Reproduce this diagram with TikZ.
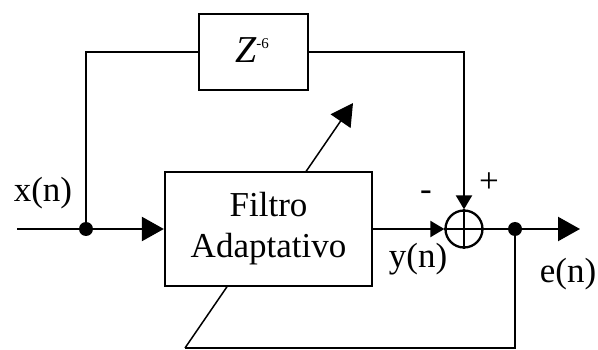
\documentclass[tikz,border=0pt]{standalone}
\usepackage{fontspec}
\setmainfont{Liberation Serif}
\usetikzlibrary{arrows.meta}
\tikzset{
  wire/.style={line width=2.3pt},
  bigarrow/.style={-{Triangle[length=22pt,width=24pt]}},
  smallarrow/.style={-{Triangle[length=14pt,width=16pt]}},
  blockbox/.style={draw,line width=2.3pt,fill=white,inner sep=0pt},
  dotnode/.style={circle,fill=black,inner sep=0pt,minimum size=14pt},
  lbl/.style={inner sep=0pt,font=\fontsize{35}{40}\selectfont}
}
\begin{document}
\begin{tikzpicture}[x=1pt,y=-1pt]
\useasboundingbox (0,0) rectangle (598,350);
% coordinates
\coordinate (in) at (17,229);
\coordinate (out) at (580,229);
\coordinate (br) at (515,348);
\coordinate (bl) at (185,348);
\coordinate (adapt) at (353,103);
% adaptation arrow (behind filter box)
\draw[line width=1.5pt,bigarrow] (bl) -- (adapt);
% nodes
\node[blockbox,minimum width=109pt,minimum height=76pt] (zbox) at (253.5,52) {};
\node[inner sep=0pt] (ztxt) at (252,50) {\fontsize{38}{40}\selectfont\itshape Z\raisebox{14pt}{\fontsize{15}{15}\selectfont\upshape -6}};
\node[blockbox,minimum width=207pt,minimum height=114pt,align=center,font=\fontsize{35}{41}\selectfont] (filt) at (268.5,229) {Filtro\\Adaptativo};
\node[circle,draw,line width=2.3pt,minimum size=37pt,inner sep=0pt] (sum) at (464,229) {};
\node[dotnode] (jx) at (86,229) {};
\node[dotnode] (je) at (515,229) {};
% cross inside summer
\draw[wire] (sum.north) -- (sum.south);
\draw[wire] (sum.west) -- (sum.east);
% wires
\draw[wire] (in) -- (jx);
\draw[wire,bigarrow] (jx) -- (filt.west);
\draw[wire] (jx) |- (zbox.west);
\draw[wire,smallarrow] (zbox.east) -| (sum.north);
\draw[wire,smallarrow] (filt.east) -- (sum.west);
\draw[wire] (sum.east) -- (je);
\draw[wire,bigarrow] (je) -- (out);
\draw[wire] (je) -- (br) -- (bl);
% labels
\node[lbl] (xl) at (43,193) {x(n)};
\node[lbl] (yl) at (418,259) {y(n)};
\node[lbl] (el) at (568,274) {e(n)};
\node[lbl] (minus) at (426,196) {-};
\node[lbl] (plus) at (489,183) {+};
\end{tikzpicture}
\end{document}
